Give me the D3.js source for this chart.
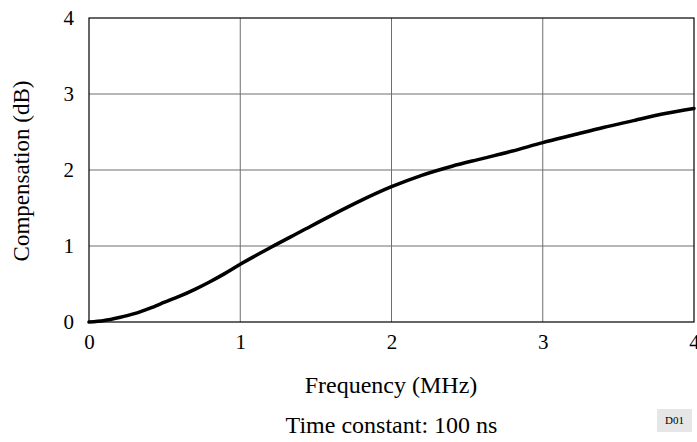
<!DOCTYPE html>
<html>
<head>
<meta charset="utf-8">
<script src="https://cdn.jsdelivr.net/npm/d3@7"></script>
<style>
  body { margin: 0; background: #fff; }
  svg text { font-family: "Liberation Serif", "Times New Roman", serif; fill: #000; }
</style>
</head>
<body>
<div id="container"></div>
<script>
//Data
const freq = [0, 0.1, 0.2, 0.3, 0.4, 0.5, 0.6, 0.7, 0.8, 0.9, 1.0, 1.2, 1.4, 1.6, 1.8, 2.0, 2.2, 2.4, 2.6, 2.8, 3.0, 3.2, 3.4, 3.6, 3.8, 4.0];
const comp = [0, 0.02, 0.06, 0.11, 0.18, 0.26, 0.34, 0.43, 0.53, 0.64, 0.76, 0.98, 1.19, 1.40, 1.60, 1.78, 1.93, 2.05, 2.15, 2.25, 2.36, 2.46, 2.56, 2.65, 2.74, 2.81];
const xTicks = [0, 1, 2, 3, 4];
const yTicks = [0, 1, 2, 3, 4];

const width = 697;
const height = 442;

//Plot area
const padding = { top: 18, right: 3, bottom: 120, left: 89 };
const chartArea = {
    'width': width - padding.left - padding.right,
    'height': height - padding.top - padding.bottom
};

const svg = d3.select('#container').append('svg')
    .attr('width', width)
    .attr('height', height);

const xScale = d3.scaleLinear().domain([0, 4]).range([0, chartArea.width]);
const yScale = d3.scaleLinear().domain([0, 4]).range([chartArea.height, 0]);

const g = svg.append('g')
    .attr('transform', 'translate(' + padding.left + ',' + padding.top + ')');

//Grid
g.selectAll('.vgrid')
    .data(xTicks.slice(1, -1))
    .enter().append('line')
    .attr('x1', d => xScale(d)).attr('x2', d => xScale(d))
    .attr('y1', 0).attr('y2', chartArea.height)
    .attr('stroke', '#6e6e6e').attr('stroke-width', 1);

g.selectAll('.hgrid')
    .data(yTicks.slice(1, -1))
    .enter().append('line')
    .attr('x1', 0).attr('x2', chartArea.width)
    .attr('y1', d => yScale(d)).attr('y2', d => yScale(d))
    .attr('stroke', '#6e6e6e').attr('stroke-width', 1);

//Frame
g.append('rect')
    .attr('x', 0).attr('y', 0)
    .attr('width', chartArea.width).attr('height', chartArea.height)
    .attr('fill', 'none').attr('stroke', '#000').attr('stroke-width', 1.2);

//Axes (labels only)
const xAxis = g.append('g')
    .attr('transform', 'translate(0,' + chartArea.height + ')')
    .call(d3.axisBottom(xScale).tickValues(xTicks).tickSize(0).tickPadding(12).tickFormat(d3.format('d')));
const yAxis = g.append('g')
    .call(d3.axisLeft(yScale).tickValues(yTicks).tickSize(0).tickPadding(15).tickFormat(d3.format('d')));
[xAxis, yAxis].forEach(a => {
    a.select('.domain').remove();
    a.selectAll('text').attr('font-size', 21).attr('font-family', '"Liberation Serif", serif');
});

//Curve
const line = d3.line()
    .x((d, i) => xScale(freq[i]))
    .y(d => yScale(d))
    .curve(d3.curveMonotoneX);

g.append('path')
    .datum(comp)
    .attr('d', line)
    .attr('fill', 'none')
    .attr('stroke', '#000')
    .attr('stroke-width', 3.5)
    .attr('stroke-linecap', 'round');

//Axis titles
svg.append('text')
    .attr('transform', 'rotate(-90)')
    .attr('x', -171)
    .attr('y', 29)
    .attr('text-anchor', 'middle')
    .attr('font-size', 23)
    .text('Compensation (dB)');

svg.append('text')
    .attr('x', 391)
    .attr('y', 393)
    .attr('text-anchor', 'middle')
    .attr('font-size', 24)
    .text('Frequency (MHz)');

svg.append('text')
    .attr('x', 391.5)
    .attr('y', 433)
    .attr('text-anchor', 'middle')
    .attr('font-size', 24)
    .text('Time constant: 100 ns');

//Tag box
svg.append('rect')
    .attr('x', 657).attr('y', 409)
    .attr('width', 35).attr('height', 23)
    .attr('fill', '#e6e6e6');
svg.append('text')
    .attr('x', 674.5).attr('y', 424)
    .attr('text-anchor', 'middle')
    .attr('font-size', 11)
    .text('D01');
</script>
</body>
</html>
